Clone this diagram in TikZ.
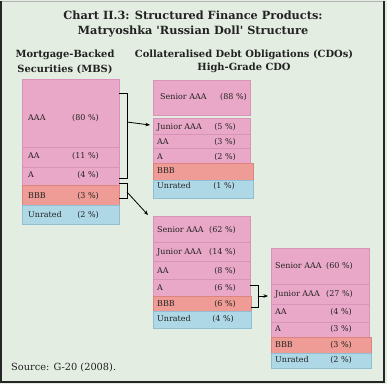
\documentclass[tikz,border=0pt]{standalone}
\usepackage{fontspec}
\setmainfont{DejaVu Serif}
\usetikzlibrary{arrows.meta}
\definecolor{bgc}{HTML}{E3EDE1}
\definecolor{cpink}{HTML}{E9A8C8}
\definecolor{cpinkd}{HTML}{D993B6}
\definecolor{csal}{HTML}{EE9C95}
\definecolor{csald}{HTML}{DC8580}
\definecolor{cblue}{HTML}{AFD8E7}
\definecolor{cblued}{HTML}{8FBFD3}
\definecolor{txt}{HTML}{222222}
\tikzset{
  pinkcell/.style={anchor=north west, inner sep=0pt, outer sep=0pt, fill=cpink, draw=cpinkd, line width=0.7pt},
  bbbcell/.style={anchor=north west, inner sep=0pt, outer sep=0pt, fill=csal, draw=csald, line width=0.7pt},
  unrcell/.style={anchor=north west, inner sep=0pt, outer sep=0pt, fill=cblue, draw=cblued, line width=0.7pt},
  lbl/.style={anchor=west, inner sep=0pt, text=txt, font=\fontsize{8}{9}\selectfont},
  pct/.style={anchor=east, inner sep=0pt, text=txt, font=\fontsize{8}{9}\selectfont},
  ttl/.style={inner sep=0pt, text=txt, font=\bfseries\fontsize{11.3}{13}\selectfont},
  hdr/.style={inner sep=0pt, text=txt, font=\bfseries\fontsize{9.9}{12}\selectfont},
  brk/.style={draw=black, line width=1pt},
  arr/.style={draw=black, line width=0.8pt, -{Stealth[length=4.5pt,width=3.5pt]}}
}
\begin{document}
\begin{tikzpicture}[x=1pt,y=-1pt]
\useasboundingbox (0,0) rectangle (387,384);
\fill[bgc] (0,0) rectangle (387,384);
\draw[gray!60, line width=1pt] (1,1) -- (384,1);
\draw[black!85, line width=1.2pt] (1,1) -- (1,382) -- (384,382) -- (384,1);

% titles
\node[ttl] (t1) at (193,15) {Chart II.3: Structured Finance Products:};
\node[ttl] (t2) at (193,31) {Matryoshka \textquotesingle Russian Doll\textquotesingle{} Structure};
\node[hdr] (h1) at (65,55) {Mortgage-Backed};
\node[hdr] (h2) at (65,70) {Securities (MBS)};
\node[hdr] (h3) at (244,55) {Collateralised Debt Obligations (CDOs)};
\node[hdr] (h4) at (244,68) {High-Grade CDO};

% MBS
\node[pinkcell, minimum width=97pt, minimum height=68pt] (mA) at (22,79) {};
\node[pinkcell, minimum width=97pt, minimum height=20pt] (mB) at (22,147) {};
\node[pinkcell, minimum width=97pt, minimum height=18pt] (mC) at (22,167) {};
\node[bbbcell, minimum width=97pt, minimum height=20pt] (mD) at (22,185) {};
\node[unrcell, minimum width=97pt, minimum height=19pt] (mE) at (22,205) {};
\node[lbl] (mAl) at (28,118) {AAA};  \node[pct] (mAp) at (99,118) {(80 \%)};
\node[lbl] (mBl) at (28,156) {AA};   \node[pct] (mBp) at (99,156) {(11 \%)};
\node[lbl] (mCl) at (28,175) {A};    \node[pct] (mCp) at (99,175) {(4 \%)};
\node[lbl] (mDl) at (28,196) {BBB};  \node[pct] (mDp) at (99,196) {(3 \%)};
\node[lbl] (mEl) at (28,215) {Unrated}; \node[pct] (mEp) at (99,215) {(2 \%)};

% CDO 1
\node[pinkcell, minimum width=97pt, minimum height=35pt] (aA) at (153,80) {};
\node[pinkcell, minimum width=97pt, minimum height=16pt] (aB) at (153,118) {};
\node[pinkcell, minimum width=97pt, minimum height=14pt] (aC) at (153,134) {};
\node[pinkcell, minimum width=97pt, minimum height=15pt] (aD) at (153,148) {};
\node[bbbcell, minimum width=100pt, minimum height=17pt] (aE) at (153,163) {};
\node[unrcell, minimum width=100pt, minimum height=18pt] (aF) at (153,180) {};
\node[lbl] (aAl) at (160,97) {Senior AAA};  \node[pct] (aAp) at (247,97) {(88 \%)};
\node[lbl] (aBl) at (157,127) {Junior AAA}; \node[pct] (aBp) at (236,127) {(5 \%)};
\node[lbl] (aCl) at (157,142) {AA};         \node[pct] (aCp) at (236,142) {(3 \%)};
\node[lbl] (aDl) at (157,157) {A};          \node[pct] (aDp) at (236,157) {(2 \%)};
\node[lbl] (aEl) at (157,171) {BBB};
\node[lbl] (aFl) at (157,186) {Unrated};    \node[pct] (aFp) at (235,186) {(1 \%)};

% CDO 2
\node[pinkcell, minimum width=97pt, minimum height=26pt] (bA) at (153,216) {};
\node[pinkcell, minimum width=97pt, minimum height=19pt] (bB) at (153,242) {};
\node[pinkcell, minimum width=97pt, minimum height=18pt] (bC) at (153,261) {};
\node[pinkcell, minimum width=97pt, minimum height=17pt] (bD) at (153,279) {};
\node[bbbcell, minimum width=98pt, minimum height=15pt] (bE) at (153,296) {};
\node[unrcell, minimum width=98pt, minimum height=17pt] (bF) at (153,311) {};
\node[lbl] (bAl) at (157,230) {Senior AAA}; \node[pct] (bAp) at (236,230) {(62 \%)};
\node[lbl] (bBl) at (157,252) {Junior AAA}; \node[pct] (bBp) at (236,252) {(14 \%)};
\node[lbl] (bCl) at (157,271) {AA};         \node[pct] (bCp) at (236,271) {(8 \%)};
\node[lbl] (bDl) at (157,288) {A};          \node[pct] (bDp) at (236,288) {(6 \%)};
\node[lbl] (bEl) at (157,304) {BBB};        \node[pct] (bEp) at (236,304) {(6 \%)};
\node[lbl] (bFl) at (157,319) {Unrated};    \node[pct] (bFp) at (234,319) {(4 \%)};

% CDO 3
\node[pinkcell, minimum width=98pt, minimum height=36pt] (cA) at (271,248) {};
\node[pinkcell, minimum width=98pt, minimum height=20pt] (cB) at (271,284) {};
\node[pinkcell, minimum width=98pt, minimum height=18pt] (cC) at (271,304) {};
\node[pinkcell, minimum width=98pt, minimum height=15pt] (cD) at (271,322) {};
\node[bbbcell, minimum width=100pt, minimum height=16pt] (cE) at (271,337) {};
\node[unrcell, minimum width=100pt, minimum height=15pt] (cF) at (271,353) {};
\node[lbl] (cAl) at (275,266) {Senior AAA}; \node[pct] (cAp) at (353,266) {(60 \%)};
\node[lbl] (cBl) at (275,294) {Junior AAA}; \node[pct] (cBp) at (353,294) {(27 \%)};
\node[lbl] (cCl) at (275,312) {AA};         \node[pct] (cCp) at (352,312) {(4 \%)};
\node[lbl] (cDl) at (275,329) {A};          \node[pct] (cDp) at (352,329) {(3 \%)};
\node[lbl] (cEl) at (275,345) {BBB};        \node[pct] (cEp) at (352,345) {(3 \%)};
\node[lbl] (cFl) at (275,360) {Unrated};    \node[pct] (cFp) at (352,360) {(2 \%)};

% brackets and arrows
\coordinate (b1t) at (119,93);
\coordinate (b1b) at (119,178);
\coordinate (b1m) at (127,122);
\draw[brk] (b1t) -- ++(8,0) |- (b1b);
\draw[arr] (b1m) -- ([xshift=-3pt,yshift=1pt]aB.west);

\coordinate (b2t) at (119,183);
\coordinate (b2b) at (119,198);
\coordinate (b2m) at (127,192);
\coordinate (b2e) at (148,215);
\draw[brk] (b2t) -- ++(8,0) |- (b2b);
\draw[arr] (b2m) -- (b2e);

\coordinate (b3t) at (250,285);
\coordinate (b3b) at (251,307);
\coordinate (b3m) at (258,296);
\draw[brk] (b3t) -- ++(8,0) |- (b3b);
\draw[arr] (b3m) -- ([xshift=-3pt]b3m -| cB.west);

% source
\node[anchor=west, inner sep=0pt, text=txt, font=\fontsize{9.8}{11}\selectfont] (src) at (11,368) {Source: G-20 (2008).};
\end{tikzpicture}
\end{document}
